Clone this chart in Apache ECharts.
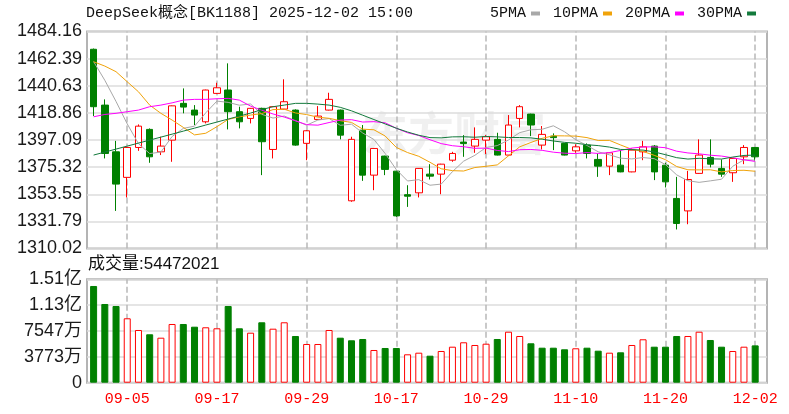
<!DOCTYPE html>
<html>
<head>
<meta charset="utf-8">
<script src="https://cdn.jsdelivr.net/npm/echarts@6/dist/echarts.min.js"></script>
<style>
  html, body { margin: 0; padding: 0; background: #fff; }
  #chart { width: 789px; height: 414px; }
</style>
</head>
<body>
<div id="chart"></div>
<script>
// trading days shown on the chart
var dates = ['09-02','09-03','09-04','09-05','09-08','09-09','09-10','09-11','09-12','09-15',
  '09-16','09-17','09-18','09-19','09-22','09-23','09-24','09-25','09-26','09-29',
  '09-30','10-09','10-10','10-13','10-14','10-15','10-16','10-17','10-20','10-21',
  '10-22','10-23','10-24','10-27','10-28','10-29','10-30','10-31','11-03','11-04',
  '11-05','11-06','11-07','11-10','11-11','11-12','11-13','11-14','11-17','11-18',
  '11-19','11-20','11-21','11-24','11-25','11-26','11-27','11-28','12-01','12-02'];
var xTickLabels = ['09-05','09-17','09-29','10-17','10-29','11-10','11-20','12-02'];

var opens = [1469.9,1425.1,1387.6,1367.1,1391.1,1405.6,1387.6,1397.0,1426.5,1421.1,
  1411.7,1434.5,1437.2,1419.8,1414.4,1422.5,1389.5,1421.9,1421.1,1394.4,
  1413.6,1421.1,1421.1,1348.3,1405.0,1368.9,1384.2,1372.1,1353.2,1354.7,
  1369.7,1369.7,1380.9,1395.4,1392.2,1397.0,1397.6,1385.0,1414.4,1417.9,
  1393.0,1400.2,1394.4,1388.4,1393.0,1381.5,1376.1,1376.9,1371.5,1387.6,
  1392.2,1376.9,1350.2,1340.2,1370.3,1383.1,1374.3,1370.8,1383.6,1391.1];
var closes = [1423.8,1386.3,1361.7,1391.1,1408.2,1383.6,1392.2,1424.5,1423.5,1417.1,
  1437.2,1439.0,1419.8,1411.7,1422.5,1395.7,1423.8,1427.8,1393.0,1404.5,
  1416.3,1429.7,1401.0,1397.6,1368.9,1390.3,1373.5,1336.2,1352.0,1374.3,
  1368.1,1377.7,1386.3,1394.2,1397.6,1399.7,1385.0,1409.1,1423.8,1409.1,
  1401.6,1399.0,1385.0,1391.6,1386.3,1376.1,1386.8,1371.5,1389.0,1391.6,
  1371.5,1363.5,1330.1,1365.4,1385.0,1377.7,1369.7,1382.3,1391.1,1383.6];
var lows = [1416.3,1382.3,1340.2,1351.0,1388.4,1378.8,1385.0,1379.6,1418.5,1409.1,
  1410.4,1434.0,1405.6,1406.4,1410.4,1368.9,1382.3,1421.5,1392.5,1380.9,
  1413.2,1420.8,1397.6,1347.5,1364.3,1356.8,1368.9,1335.4,1343.4,1351.0,
  1365.4,1353.6,1379.6,1383.6,1386.8,1385.8,1384.7,1384.7,1407.2,1400.2,
  1389.5,1389.0,1384.7,1386.8,1382.3,1367.5,1368.9,1371.2,1371.2,1380.9,
  1364.9,1359.0,1325.3,1329.5,1370.0,1375.1,1367.5,1363.5,1377.7,1380.4];
var highs = [1470.5,1429.7,1396.4,1391.5,1409.6,1406.4,1399.7,1424.8,1438.5,1425.1,
  1437.5,1443.0,1458.6,1423.8,1422.8,1423.0,1424.2,1445.8,1421.7,1405.0,
  1424.3,1435.0,1421.5,1399.7,1409.1,1390.6,1384.5,1372.4,1360.8,1374.6,
  1377.7,1378.0,1387.6,1401.0,1407.2,1401.0,1402.9,1417.1,1425.1,1418.2,
  1408.3,1402.4,1394.7,1393.6,1394.4,1386.3,1387.1,1389.0,1390.3,1396.4,
  1393.0,1378.8,1367.5,1372.3,1397.6,1397.6,1381.5,1382.6,1393.0,1391.4];

// moving averages as drawn (the first points include days before the window)
var ma5 = [1460.0,1445.0,1428.0,1410.0,1394.2,1386.2,1387.4,1399.9,1406.4,1408.2,
  1418.9,1428.3,1427.3,1425.0,1426.0,1417.7,1414.7,1416.3,1412.6,1409.0,
  1413.1,1414.3,1408.9,1409.8,1402.7,1397.5,1386.3,1373.3,1364.2,1365.3,
  1360.8,1361.7,1371.7,1380.1,1384.8,1391.1,1392.6,1397.1,1403.0,1405.3,
  1405.7,1408.5,1403.7,1397.3,1392.7,1387.6,1385.2,1382.5,1381.9,1383.0,
  1382.1,1377.4,1369.1,1364.4,1363.1,1364.3,1365.6,1376.0,1381.2,1380.9];
var ma10 = [1459.9,1456.4,1451.9,1443.8,1435.8,1425.1,1418.5,1413.1,1407.2,1401.2,
  1402.5,1407.8,1413.6,1415.7,1417.1,1418.3,1421.5,1421.8,1418.8,1417.5,
  1415.4,1414.5,1412.6,1411.2,1405.8,1405.3,1400.3,1391.1,1387.0,1384.0,
  1379.2,1374.0,1372.5,1372.2,1375.0,1376.0,1377.1,1384.4,1391.6,1395.1,
  1398.4,1400.5,1400.4,1400.2,1399.0,1396.7,1396.8,1393.1,1389.6,1387.9,
  1384.8,1381.3,1375.8,1373.2,1373.1,1373.2,1371.5,1372.6,1372.8,1372.0];
var ma20 = [1415.7,1417.6,1418.5,1419.8,1421.1,1423.8,1425.1,1426.9,1429.1,1429.7,
  1429.7,1430.2,1430.5,1429.1,1424.3,1421.0,1418.0,1415.5,1412.5,1409.4,
  1409.0,1411.1,1413.1,1413.4,1411.5,1411.8,1410.9,1406.5,1402.9,1400.7,
  1397.3,1394.2,1392.5,1391.7,1390.4,1390.6,1388.7,1387.8,1389.3,1389.5,
  1388.8,1387.3,1386.5,1386.2,1387.0,1386.3,1387.0,1388.7,1390.6,1391.5,
  1391.6,1390.9,1388.1,1386.7,1386.0,1384.9,1384.2,1382.8,1381.2,1379.9];
var ma30 = [1385.0,1387.4,1389.8,1392.2,1394.6,1397.0,1399.4,1401.8,1404.2,1406.6,
  1409.1,1411.5,1413.9,1416.3,1418.7,1421.5,1423.8,1425.1,1426.5,1426.5,
  1425.9,1425.1,1423.3,1420.5,1417.0,1413.5,1410.0,1406.5,1403.5,1400.9,
  1399.0,1398.8,1399.6,1399.7,1399.3,1399.9,1399.6,1399.1,1399.1,1398.8,
  1397.7,1396.3,1395.2,1394.5,1393.3,1392.6,1391.4,1389.5,1389.4,1389.0,
  1387.5,1385.3,1382.9,1381.8,1382.4,1382.0,1381.8,1383.4,1384.7,1385.0];

// volume, in shares
var volumes = [141180000,114900000,111980000,94020000,76940000,70660000,65700000,85700000,85700000,81760000,
  80880000,79420000,111980000,79420000,73000000,88180000,78840000,88180000,68180000,56500000,
  56500000,76940000,65700000,61900000,63800000,47740000,50660000,50660000,41460000,43800000,
  39420000,46280000,52560000,58980000,55040000,56940000,63800000,74460000,68180000,57520000,
  51100000,51100000,48760000,50220000,51100000,46720000,43800000,44380000,55040000,63360000,
  52560000,52560000,68180000,68180000,74460000,62340000,52560000,46280000,52560000,54472021];

var priceTicks = ['1310.02','1331.79','1353.55','1375.32','1397.09','1418.86','1440.63','1462.39','1484.16'];
var priceMin = 1310.02, priceMax = 1484.16;
var volTicks = ['0','3773万','7547万','1.13亿','1.51亿'];
var volMax = 150936000;

var RED = '#ff0000', GREEN = '#008000';
var labelFont = "'Liberation Sans', 'Noto Sans CJK SC', sans-serif";
var monoFont = "'Liberation Mono', 'Noto Sans CJK SC', monospace";

var candles = dates.map(function (d, i) {
  return [opens[i], closes[i], lows[i], highs[i]];
});

// volume bar colour follows the close against the previous close
var volData = volumes.map(function (v, i) {
  var up = i === 0 ? closes[0] >= opens[0] : closes[i] >= closes[i - 1];
  return {
    value: v,
    itemStyle: up
      ? { color: '#ffffff', borderColor: RED, borderWidth: 1 }
      : { color: GREEN, borderColor: GREEN, borderWidth: 1 }
  };
});

// dashed vertical lines at the labelled dates (markLine keeps its default z 5,
// so the series are lifted above it)
function dateLines() {
  return {
    symbol: ['none', 'none'],
    label: { show: false },
    lineStyle: { color: '#b8b8b8', width: 1.5, type: 'dashed' },
    data: xTickLabels.map(function (d) { return { xAxis: d }; })
  };
}

var chart = echarts.init(document.getElementById('chart'));

var frameGrid = { show: true, borderColor: '#b4b4b4', borderWidth: 2, left: 87, width: 680 };
var dataGrid = { show: false, left: 88, width: 684 };

function dateAxis(gridIndex, showLabels) {
  return {
    type: 'category',
    gridIndex: gridIndex,
    data: dates,
    max: dates.length,
    axisLine: { show: false },
    axisTick: { show: false },
    axisLabel: {
      show: showLabels,
      interval: function (idx) { return xTickLabels.indexOf(dates[idx]) >= 0; },
      color: RED,
      fontFamily: monoFont,
      fontSize: 15,
      margin: 9
    },
    splitLine: { show: false }
  };
}

var maSeries = [
  { name: '5PMA', data: ma5, color: '#a8a8a8' },
  { name: '10PMA', data: ma10, color: '#f0a30a' },
  { name: '20PMA', data: ma20, color: '#ff00ff' },
  { name: '30PMA', data: ma30, color: '#137a3c' }
].map(function (m) {
  return {
    name: m.name,
    type: 'line',
    xAxisIndex: 2,
    yAxisIndex: 2,
    data: m.data,
    symbol: 'none',
    color: m.color,
    lineStyle: { width: 1, color: m.color },
    z: 7
  };
});

chart.setOption({
  animation: false,
  backgroundColor: '#ffffff',
  title: [
    {
      text: 'DeepSeek概念[BK1188] 2025-12-02 15:00',
      left: 86, top: 6, padding: 0,
      textStyle: { fontFamily: monoFont, fontSize: 15, fontWeight: 'normal', color: '#111' }
    },
    {
      text: '成交量:' + volumes[volumes.length - 1],
      left: 88, top: 256, padding: 0,
      textStyle: { fontFamily: labelFont, fontSize: 17, fontWeight: 'normal', color: '#111' }
    }
  ],
  legend: {
    data: ['5PMA', '10PMA', '20PMA', '30PMA'],
    left: 490, top: 6, padding: 0,
    align: 'right',
    icon: 'rect',
    itemWidth: 9, itemHeight: 4, itemGap: 13,
    textStyle: { fontFamily: monoFont, fontSize: 15, color: '#111' }
  },
  graphic: [{
    type: 'text',
    left: 362, top: 110, z: 0, silent: true,
    style: {
      text: '东方财富',
      font: 'bold 46px "Noto Sans CJK SC"',
      fill: 'rgba(0,0,0,0.06)'
    }
  }],
  grid: [
    Object.assign({ top: 31.5, height: 217 }, frameGrid),
    Object.assign({ top: 279.3, height: 103.4 }, frameGrid),
    Object.assign({ top: 31.5, height: 217 }, dataGrid),
    Object.assign({ top: 279.3, height: 103.4 }, dataGrid)
  ],
  xAxis: [
    { type: 'value', gridIndex: 0, min: 0, max: 1, show: false },
    { type: 'value', gridIndex: 1, min: 0, max: 1, show: false },
    dateAxis(2, false),
    dateAxis(3, true)
  ],
  yAxis: [
    {
      type: 'value', gridIndex: 0, min: 0, max: priceTicks.length - 1, interval: 1,
      axisLine: { show: false }, axisTick: { show: false },
      axisLabel: {
        formatter: function (v) { return priceTicks[v]; },
        color: '#1a1a1a', fontFamily: labelFont, fontSize: 18, margin: 5
      },
      splitLine: { show: true, lineStyle: { color: '#dcdcdc', width: 1.5 } }
    },
    {
      type: 'value', gridIndex: 1, min: 0, max: volMax, interval: volMax / 4,
      axisLine: { show: false }, axisTick: { show: false },
      axisLabel: {
        formatter: function (v) { return volTicks[Math.round(v / (volMax / 4))]; },
        color: '#1a1a1a', fontFamily: labelFont, fontSize: 18, margin: 5
      },
      splitLine: { show: true, lineStyle: { color: '#dcdcdc', width: 1.5 } }
    },
    { type: 'value', gridIndex: 2, min: priceMin, max: priceMax, show: false },
    { type: 'value', gridIndex: 3, min: 0, max: volMax, show: false }
  ],
  series: [
    {
      name: 'K',
      type: 'candlestick',
      xAxisIndex: 2,
      yAxisIndex: 2,
      data: candles,
      barWidth: 7,
      itemStyle: {
        color: '#ffffff',
        color0: GREEN,
        borderColor: RED,
        borderColor0: GREEN,
        borderWidth: 1
      },
      markLine: dateLines(),
      z: 6
    }
  ].concat(maSeries).concat([
    {
      name: 'VOL',
      type: 'bar',
      xAxisIndex: 3,
      yAxisIndex: 3,
      data: volData,
      barWidth: 7,
      markLine: dateLines(),
      z: 6
    }
  ])
});
</script>
</body>
</html>
